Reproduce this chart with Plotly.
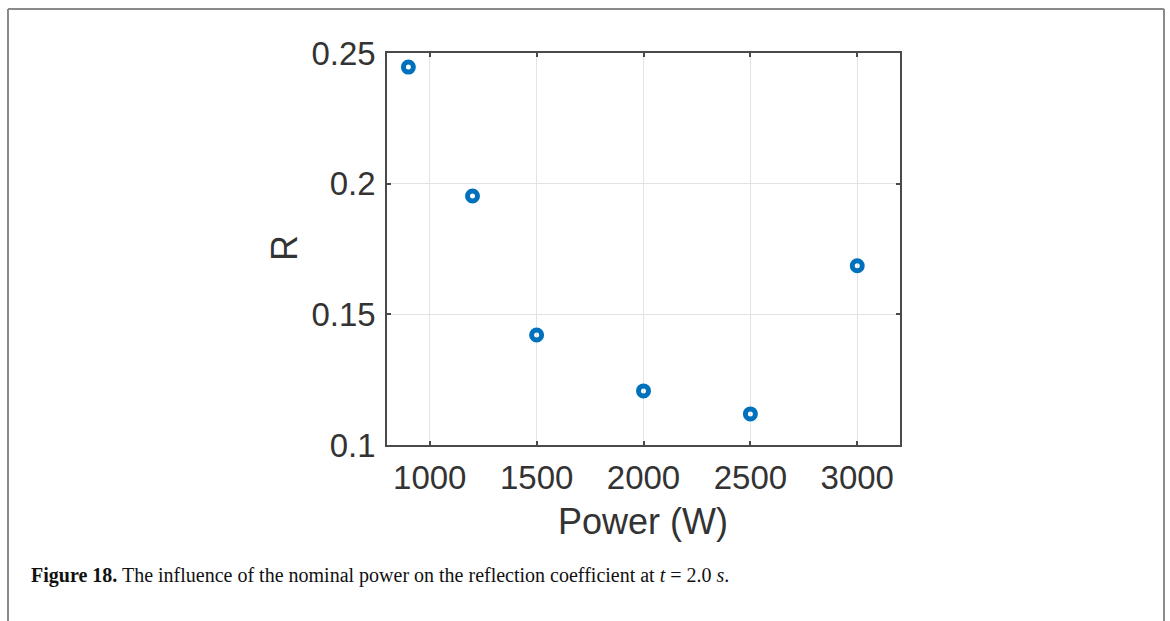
import plotly.graph_objects as go

# data
power_w = [900, 1200, 1500, 2000, 2500, 3000]
reflection_r = [0.2446, 0.1953, 0.1421, 0.1207, 0.1119, 0.1686]
x_ticks = [1000, 1500, 2000, 2500, 3000]
x_tick_text = ["1000", "1500", "2000", "2500", "3000"]
y_ticks = [0.1, 0.15, 0.2, 0.25]
y_tick_text = ["0.1", "0.15", "0.2", "0.25"]

W, H = 1170, 621
L, R, T, B = 387, 270, 53, 176
pw, ph = W - L - R, H - T - B

def px(xp):
    return (xp - L) / pw

def py(yp):
    return (H - B - yp) / ph

fig = go.Figure()
fig.add_trace(go.Scatter(
    x=power_w, y=reflection_r, mode="markers",
    marker=dict(symbol="circle-open", size=10, color="#0072BD",
                line=dict(width=5, color="#0072BD")),
    showlegend=False, cliponaxis=False,
))

axis_common = dict(
    showline=True, linecolor="#4a4a4a", linewidth=1.5, mirror="ticks",
    ticks="inside", ticklen=4, tickwidth=1.5, tickcolor="#4a4a4a",
    showgrid=True, gridcolor="#e3e3e3", gridwidth=1, zeroline=False,
    tickfont=dict(family="Liberation Sans, Arial", size=33, color="#333333"),
)

fig.update_layout(
    width=W, height=H, autosize=False,
    margin=dict(l=L, r=R, t=T, b=B),
    paper_bgcolor="white", plot_bgcolor="white",
    xaxis=dict(range=[800, 3200], tickvals=x_ticks, ticktext=x_tick_text,
               ticklabelstandoff=3, **axis_common),
    yaxis=dict(range=[0.1, 0.25], tickvals=y_ticks, ticktext=y_tick_text,
               ticklabelstandoff=3, **axis_common),
    annotations=[
        dict(text="Power (W)", xref="paper", yref="paper", x=px(643), y=py(521),
             xanchor="center", yanchor="middle", showarrow=False,
             font=dict(family="Liberation Sans, Arial", size=36, color="#333333")),
        dict(text="R", xref="paper", yref="paper", x=px(284), y=py(248),
             xanchor="center", yanchor="middle", showarrow=False, textangle=-90,
             font=dict(family="Liberation Sans, Arial", size=36, color="#333333")),
        dict(text="<b>Figure 18.</b> The influence of the nominal power on the reflection coefficient at <i>t</i> = 2.0 <i>s</i>.",
             xref="paper", yref="paper", x=px(29), y=py(575),
             xanchor="left", yanchor="middle", showarrow=False,
             font=dict(family="Liberation Serif, Times New Roman", size=20, color="#111111")),
    ],
    shapes=[
        dict(type="line", xref="paper", yref="paper", x0=px(8), x1=px(8), y0=py(9), y1=py(625),
             line=dict(color="#8a8a8a", width=2)),
        dict(type="line", xref="paper", yref="paper", x0=px(8), x1=px(1164), y0=py(9), y1=py(9),
             line=dict(color="#8a8a8a", width=2)),
        dict(type="line", xref="paper", yref="paper", x0=px(1164), x1=px(1164), y0=py(9), y1=py(625),
             line=dict(color="#8a8a8a", width=2)),
    ],
)

fig.write_html("out.html")
